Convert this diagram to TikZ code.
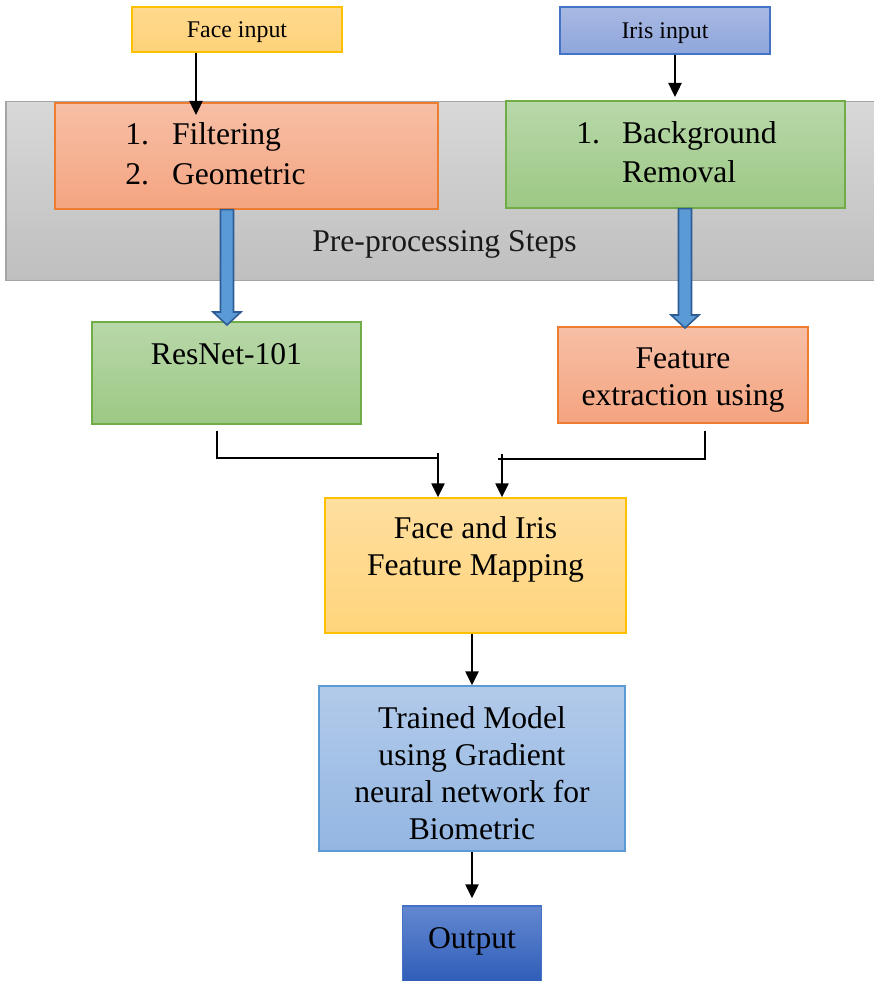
\documentclass[tikz,border=0pt]{standalone}
\usepackage{fontspec}
\setmainfont{Liberation Serif}
\usepackage{xcolor}
\usetikzlibrary{arrows.meta, positioning, calc}
\definecolor{faceyellow}{HTML}{FFD98E}
\definecolor{faceyellowlo}{HTML}{FFD27A}
\definecolor{goldedge}{HTML}{FFC000}
\definecolor{irisblue}{HTML}{A9B9E3}
\definecolor{irisbluelo}{HTML}{8EA6DB}
\definecolor{darkedge}{HTML}{4472C4}
\definecolor{bandgray}{HTML}{D8D8D8}
\definecolor{bandgraylo}{HTML}{BFBFBF}
\definecolor{grayedge}{HTML}{A5A5A5}
\definecolor{salmon}{HTML}{F7BFA6}
\definecolor{salmonlo}{HTML}{F4A480}
\definecolor{orangeedge}{HTML}{ED7D31}
\definecolor{leafgreen}{HTML}{B8D8A9}
\definecolor{leafgreenlo}{HTML}{9CC884}
\definecolor{greenedge}{HTML}{70AD47}
\definecolor{mapyellow}{HTML}{FFDF9F}
\definecolor{mapyellowlo}{HTML}{FFD47B}
\definecolor{skyblue}{HTML}{B2CAEA}
\definecolor{skybluelo}{HTML}{93B6E2}
\definecolor{skyedge}{HTML}{5B9BD5}
\definecolor{outblue}{HTML}{6388D0}
\definecolor{outbluelo}{HTML}{2F5DB8}
\definecolor{fatblue}{HTML}{5B9BD5}
\definecolor{fatedge}{HTML}{2E5C94}
\newcommand{\boxtop}{\rule{0pt}{17.5pt}}

\begin{document}
\begin{tikzpicture}[
  x=0.02cm, y=-0.02cm,
  panel/.style={rectangle, inner sep=0pt, line width=0.8pt},
  box/.style={panel, align=center, font={\fontsize{18}{21}\selectfont}},
  inputbox/.style={box, font={\fontsize{13.6}{16}\selectfont}},
  txt/.style={inner sep=0pt, align=left, font={\fontsize{18}{22.7}\selectfont}},
  arrow/.style={-{Triangle[length=8pt,width=7.5pt]}, line width=1.1pt},
  link/.style={line width=0.7pt},
  fatarrow/.style={draw=fatedge, fill=fatblue, line width=0.9pt, line join=miter,
    to path={($(\tikztostart)+(-6.5,0)$) -- ($(\tikztotarget)+(-6.5,-13)$) -- ++(-7.5,0) -- (\tikztotarget)
      -- ++(14,-13) -- ++(-7.5,0) -- ($(\tikztostart)+(6.5,0)$) -- cycle}}
]
  \useasboundingbox (0,0) rectangle (874,981);

  % Pre-processing band
  \node[panel, top color=bandgray, bottom color=bandgraylo, draw=grayedge, minimum width=17.6cm, minimum height=3.58cm] (band) at (446,191) {};
  \node[txt, text=black!90] (prep) at (444.5,244) {Pre-processing Steps};

  % Inputs
  \node[inputbox, top color=faceyellow, bottom color=faceyellowlo, draw=goldedge, minimum width=4.2cm, minimum height=0.9cm] (face) at (237,29.5) {\rule{0pt}{12.3pt}Face input};
  \node[inputbox, top color=irisblue, bottom color=irisbluelo, draw=darkedge, minimum width=4.2cm, minimum height=0.94cm] (iris) at (665,30.5) {\rule{0pt}{12.3pt}Iris input};

  % Pre-processing steps
  \node[panel, top color=salmon, bottom color=salmonlo, draw=orangeedge, minimum width=7.66cm, minimum height=2.12cm] (filt) at (246.5,156) {};
  \node[txt, anchor=west] (filtlist) at (125,156.5) {\begin{tabular}{@{}p{26.6pt}@{}l@{}}1. & Filtering\\ 2. & Geometric\end{tabular}};
  \node[panel, top color=leafgreen, bottom color=leafgreenlo, draw=greenedge, minimum width=6.78cm, minimum height=2.14cm] (bgrem) at (675.5,154.5) {};
  \node[txt, anchor=west] (bglist) at (576,155) {\begin{tabular}{@{}p{26pt}@{}l@{}}1. & Background\\ & Removal\end{tabular}};

  % Feature extraction
  \node[box, top color=leafgreen, bottom color=leafgreenlo, draw=greenedge, minimum width=5.38cm, minimum height=2.04cm] (resnet) at (226.5,373) {\boxtop ResNet-101\\ \strut};
  \node[box, top color=salmon, bottom color=salmonlo, draw=orangeedge, minimum width=5cm, minimum height=1.92cm] (featx) at (683,375) {\boxtop Feature\\extraction using};

  % Fusion, model and output
  \node[box, top color=mapyellow, bottom color=mapyellowlo, draw=goldedge, minimum width=6.02cm, minimum height=2.7cm] (map) at (475.5,565.5) {\boxtop Face and Iris\\Feature Mapping\\ \strut};
  \node[box, top color=skyblue, bottom color=skybluelo, draw=skyedge, minimum width=6.12cm, minimum height=3.3cm] (trained) at (472,768.5) {\boxtop Trained Model\\using Gradient\\neural network for\\Biometric};
  \node[box, top color=outblue, bottom color=outbluelo, draw=darkedge, minimum width=2.78cm, minimum height=1.52cm] (out) at (472,944) {Output\rule[-7pt]{0pt}{0pt}};

  % Arrows
  \coordinate (fa) at (196,115);
  \coordinate (ia) at (675,97);
  \draw[arrow] (face.south -| fa) -- (fa);
  \draw[arrow] (iris.south -| ia) -- (ia);

  \coordinate (ftip) at (227,325);
  \coordinate (itip) at (685,328);
  \draw[fatarrow] (filt.south -| ftip) to (ftip);
  \draw[fatarrow] (bgrem.south -| itip) to (itip);

  \coordinate (jl) at (438,458);
  \coordinate (jr) at (498,459);
  \coordinate (jr2) at (502,454);
  \draw[link] ([xshift=-0.19cm,yshift=-0.12cm]resnet.south) |- (jl);
  \draw[arrow] ([yshift=0.1cm]jl) -- (map.north -| jl);
  \draw[link] ([xshift=0.44cm,yshift=-0.14cm]featx.south) |- (jr);
  \draw[arrow] (jr2) -- (map.north -| jr2);

  \draw[arrow] (map.south -| trained.north) -- (trained.north);
  \draw[arrow] (trained.south) -- ([yshift=0.14cm]out.north);
\end{tikzpicture}
\end{document}
